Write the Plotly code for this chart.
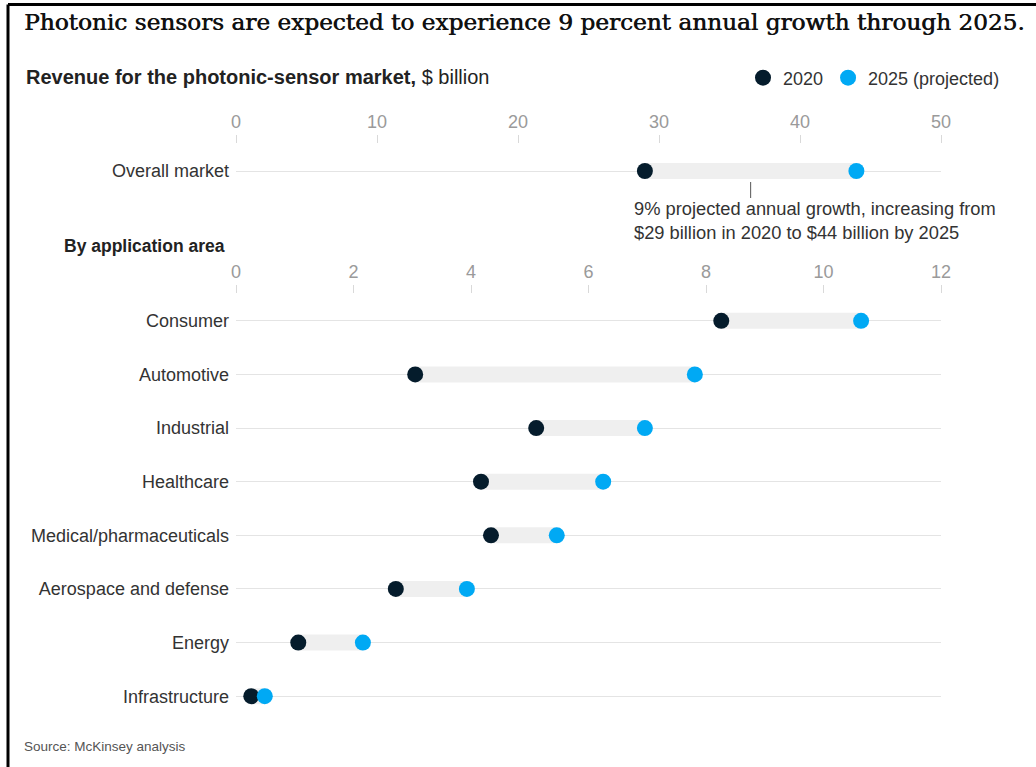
import plotly.graph_objects as go

# ---------------- data ----------------
overall_label = ["Overall market"]
overall_2020 = [29.0]
overall_2025 = [44.0]

areas = ["Consumer", "Automotive", "Industrial", "Healthcare",
         "Medical/pharmaceuticals", "Aerospace and defense", "Energy", "Infrastructure"]
areas_2020 = [8.26, 3.05, 5.11, 4.17, 4.34, 2.72, 1.06, 0.26]
areas_2025 = [10.64, 7.81, 6.96, 6.25, 5.46, 3.93, 2.16, 0.49]

top_ticks = [0, 10, 20, 30, 40, 50]
bottom_ticks = [0, 2, 4, 6, 8, 10, 12]

# ---------------- style ----------------
DARK = "#051c2c"
BLUE = "#00a9f4"
BAR = "#efefef"
GRID = "#e4e4e4"
TICK = "#9a9a9a"
TEXT = "#333333"
SANS = "Liberation Sans, Arial, sans-serif"
SERIF = "DejaVu Serif, Georgia, serif"

W, H = 1036, 767
ML, MR, MT, MB = 236, 95, 100, 44
PW, PH = W - ML - MR, H - MT - MB


def px(x):
    return (x - ML) / PW


def py(y):
    return (H - MB - y) / PH


fig = go.Figure()


def bar_trace(cats, a, b, xa, ya):
    xs, ys = [], []
    for c, v1, v2 in zip(cats, a, b):
        xs += [v1, v2, None]
        ys += [c, c, None]
    return go.Scatter(x=xs, y=ys, mode="lines", line=dict(color=BAR, width=16),
                      xaxis=xa, yaxis=ya, showlegend=False, hoverinfo="skip")


fig.add_trace(bar_trace(overall_label, overall_2020, overall_2025, "x", "y"))
fig.add_trace(bar_trace(areas, areas_2020, areas_2025, "x2", "y2"))

fig.add_trace(go.Scatter(x=overall_2020, y=overall_label, mode="markers", name="2020",
                         marker=dict(color=DARK, size=16), xaxis="x", yaxis="y",
                         legendgroup="a", showlegend=True))
fig.add_trace(go.Scatter(x=overall_2025, y=overall_label, mode="markers", name="2025 (projected)",
                         marker=dict(color=BLUE, size=16), xaxis="x", yaxis="y",
                         legendgroup="b", showlegend=True))
fig.add_trace(go.Scatter(x=areas_2020, y=areas, mode="markers", name="2020",
                         marker=dict(color=DARK, size=16), xaxis="x2", yaxis="y2",
                         legendgroup="a", showlegend=False))
fig.add_trace(go.Scatter(x=areas_2025, y=areas, mode="markers", name="2025 (projected)",
                         marker=dict(color=BLUE, size=16), xaxis="x2", yaxis="y2",
                         legendgroup="b", showlegend=False))

xcommon = dict(side="top", showgrid=False, zeroline=False, showline=False,
               ticks="outside", ticklen=8, tickwidth=1, tickcolor="#d9d9d9",
               tickfont=dict(family=SANS, size=18, color=TICK), fixedrange=True)
ycommon = dict(showgrid=True, gridcolor=GRID, gridwidth=1, zeroline=False, showline=False,
               ticks="", ticklabelstandoff=6,
               tickfont=dict(family=SANS, size=18, color=TEXT), fixedrange=True)

fig.update_layout(
    width=W, height=H,
    margin=dict(l=ML, r=MR, t=MT, b=MB),
    paper_bgcolor="white", plot_bgcolor="white",
    xaxis=dict(xcommon, range=[0, 50], tickvals=top_ticks, anchor="y", domain=[0, 1]),
    yaxis=dict(ycommon, type="category", categoryarray=overall_label, range=[-0.5, 0.5],
               domain=[py(198), py(144)], anchor="x"),
    xaxis2=dict(xcommon, range=[0, 12], tickvals=bottom_ticks, anchor="y2", domain=[0, 1]),
    yaxis2=dict(ycommon, type="category", categoryarray=areas, range=[7.5, -0.5],
                domain=[0, py(294)], anchor="x2"),
    title=dict(text="Photonic sensors are expected to experience 9 percent annual growth through 2025.",
               x=24 / W, xanchor="left", xref="container",
               y=1 - 22 / H, yanchor="middle", yref="container",
               font=dict(family=SERIF, size=23.2, color="#111111",
                         shadow="0.6px 0px 0px #111111")),
    legend=dict(orientation="h", x=px(743), y=py(78), xanchor="left", yanchor="middle",
                font=dict(family=SANS, size=18, color=TEXT), bgcolor="rgba(0,0,0,0)",
                itemclick=False, itemdoubleclick=False, traceorder="normal"),
    showlegend=True,
)

fig.add_annotation(xref="paper", yref="paper", x=px(24), y=py(77), xanchor="left", yanchor="middle",
                   text="<b>Revenue for the photonic-sensor market,</b> $ billion", showarrow=False,
                   font=dict(family=SANS, size=20, color="#222222"))
fig.add_annotation(xref="paper", yref="paper", x=px(227), y=py(246), xanchor="right", yanchor="middle",
                   text="<b>By application area</b>", showarrow=False,
                   font=dict(family=SANS, size=17.5, color="#222222"))
fig.add_annotation(xref="paper", yref="paper", x=px(632), y=py(220), xanchor="left", yanchor="middle",
                   align="left",
                   text="9% projected annual growth, increasing from<br>$29 billion in 2020 to $44 billion by 2025",
                   showarrow=False, font=dict(family=SANS, size=18.3, color=TEXT))
fig.add_annotation(xref="paper", yref="paper", x=px(22), y=py(746), xanchor="left", yanchor="middle",
                   text="Source: McKinsey analysis", showarrow=False,
                   font=dict(family=SANS, size=13.5, color="#555555"))

mid = (overall_2020[0] + overall_2025[0]) / 2
fig.add_shape(type="line", xref="x", yref="paper", x0=mid, x1=mid, y0=py(198), y1=py(182),
              line=dict(color="#555555", width=1))

# frame of the original screenshot
fig.add_shape(type="line", xref="paper", yref="paper", x0=px(8), x1=px(1040), y0=py(4.5), y1=py(4.5),
              line=dict(color="black", width=3))
fig.add_shape(type="line", xref="paper", yref="paper", x0=px(8), x1=px(8), y0=py(4.5), y1=py(770),
              line=dict(color="black", width=3))

fig.write_html("out.html", config={"displayModeBar": False},
               post_script="document.body.style.margin='0';")
